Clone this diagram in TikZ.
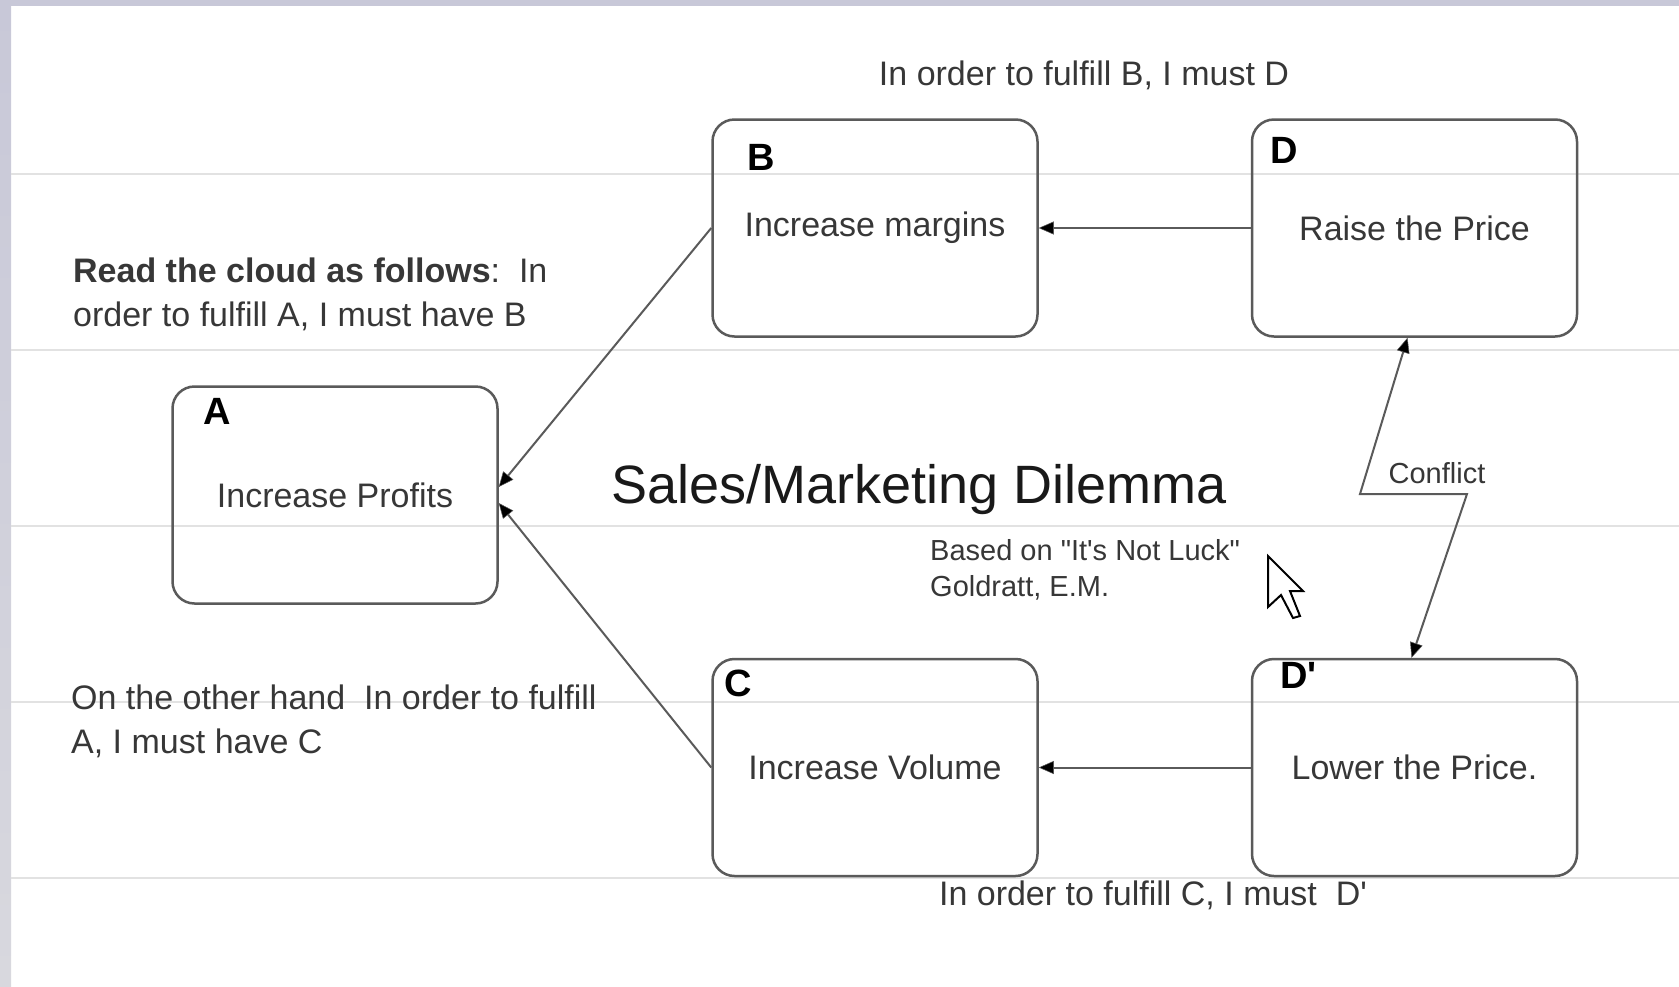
\documentclass[tikz,border=0pt]{standalone}
\usepackage{fontspec}
\setmainfont{Liberation Sans}[Ligatures=TeXOff]
\usetikzlibrary{positioning,arrows.meta}

\definecolor{edgegray}{RGB}{90,90,90}
\definecolor{textgray}{RGB}{55,55,55}
\definecolor{striptop}{RGB}{200,200,216}
\definecolor{stripbot}{RGB}{216,216,222}
\definecolor{rulegray}{RGB}{226,226,226}

\tikzset{
  cloudbox/.style={draw=edgegray, line width=2.5pt, rounded corners=22pt,
    minimum width=325pt, minimum height=217pt, inner sep=0pt,
    text=textgray, font=\fontsize{34}{40}\selectfont},
  boxtag/.style={font=\fontsize{38}{44}\selectfont\bfseries, inner sep=0pt},
  note/.style={font=\fontsize{34}{44}\selectfont, text=textgray, align=left, inner sep=0pt},
  smallnote/.style={font=\fontsize{29}{36}\selectfont, text=textgray, align=left, inner sep=0pt},
  link/.style={draw=edgegray, line width=2pt,
    >={Triangle[length=15pt,width=13pt,fill=black,line width=0.5pt]}, ->},
}

\begin{document}
\begin{tikzpicture}[x=1pt,y=-1pt]
  \useasboundingbox (0,0) rectangle (1679,986);
  \fill[white] (0,0) rectangle (1679,986);
  \shade[top color=striptop, bottom color=stripbot] (0,0) rectangle (11,986);
  \fill[striptop] (0,0) rectangle (1679,6);
  \foreach \y in {174,350,526,702,878}
    \draw[rulegray, line width=1.5pt] (11,\y) -- (1679,\y);

  \node[cloudbox] (A) at (335,495) {Increase Profits};
  \node[cloudbox] (B) at (875,228) {Increase margins};
  \node[cloudbox, right=212pt of B] (D) {Raise the Price};
  \node[cloudbox, below=320pt of B] (C) {Increase Volume};
  \node[cloudbox, right=212pt of C] (Dp) {Lower the Price.};

  \node[boxtag] (tagA) at ([xshift=46pt,yshift=-26pt]A.north west) {A};
  \node[boxtag] (tagB) at ([xshift=50pt,yshift=-39pt]B.north west) {B};
  \node[boxtag] (tagD) at ([xshift=33pt,yshift=-32pt]D.north west) {D};
  \node[boxtag] (tagC) at ([xshift=27pt,yshift=-26pt]C.north west) {C};
  \node[boxtag] (tagDp) at ([xshift=48pt,yshift=-18pt]Dp.north west) {D'};

  \node[note, anchor=base] (needB) at (1084,85) {In order to fulfill B, I must D};
  \node[note, anchor=base] (needC) at (1153,905) {In order to fulfill C, I must~~D'};
  \node[note, anchor=north west] (readAB) at (73,258)
    {\textbf{Read the cloud as follows}:~~In\\order to fulfill A, I must have B};
  \node[note, anchor=north west] (readAC) at (71,685)
    {On the other hand~~In order to fulfill\\A, I must have C};
  \node[anchor=base, inner sep=0pt, text=black!90, font=\fontsize{54}{60}\selectfont]
    (title) at (919,503) {Sales/Marketing Dilemma};
  \node[smallnote, anchor=north west] (source) at (930,539)
    {Based on "It's Not Luck"\\Goldratt, E.M.};
  \node[smallnote, anchor=base] (conflict) at (1437,483) {Conflict};

  \draw[link] (B.west) -- ([yshift=8pt]A.east);
  \draw[link] (C.west) -- ([yshift=-8pt]A.east);
  \draw[link] (D.west) -- (B.east);
  \draw[link] (Dp.west) -- (C.east);

  \coordinate (k1) at (1360,494);
  \coordinate (k2) at (1467,494);
  \draw[link, <->] ([xshift=-7pt]D.south) -- (k1) -- (k2) -- ([xshift=-3pt]Dp.north);

  \draw[black, line width=2pt, fill=white, line join=miter]
    (1268,556) -- ++(0,51) -- ++(13,-12) -- ++(12,23) -- ++(7,-2)
    -- ++(-10,-25) -- ++(13,0) -- cycle;
\end{tikzpicture}
\end{document}
